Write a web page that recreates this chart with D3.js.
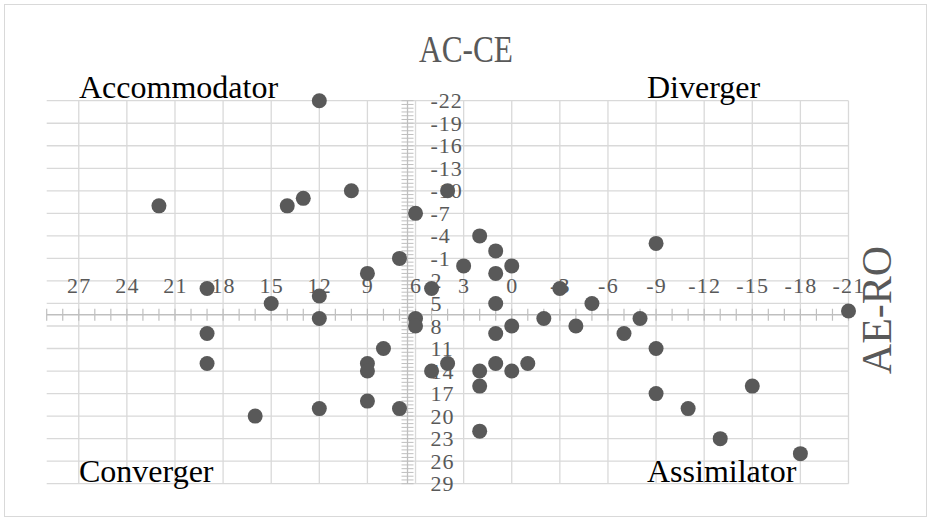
<!DOCTYPE html>
<html>
<head>
<meta charset="utf-8">
<script src="https://cdn.jsdelivr.net/npm/d3@7"></script>
<style>
  html, body { margin: 0; padding: 0; background: #fff; }
  svg text { font-family: "Liberation Serif", "Times New Roman", serif; }
</style>
</head>
<body>
<svg id="chart" width="931" height="520"></svg>
<script>
// ---- data ----
const chartTitle = "AC-CE";
const axisTitle = "AE-RO";
const quadrantLabels = ["Accommodator", "Diverger", "Converger", "Assimilator"];
const xTicks = [27, 24, 21, 18, 15, 12, 9, 6, 3, 0, -3, -6, -9, -12, -15, -18, -21];
const yTicks = [-22, -19, -16, -13, -10, -7, -4, -1, 2, 5, 8, 11, 14, 17, 20, 23, 26, 29];
const xValues = [12, 22, 14, 13, 10, 6, 4, 2, 1, 7, 3, 0, 1, -9, 5, -3, 1, -5, -21, 6, 6, -2, -8, -4, 0, 1, -7, -9, 4, 5, 2, 1, 0, -1, 19, 15, 12, 12, 9, 19, 19, 8, 9, 9, 9, 12, 16, 7, 2, 2, -9, -11, -15, -13, -18];
const yValues = [-22, -8, -8, -9, -10, -7, -10, -4, -2, -1, 0, 0, 1, -3, 3, 3, 5, 5, 6, 7, 8, 7, 7, 8, 8, 9, 9, 11, 13, 14, 14, 13, 14, 13, 3, 5, 4, 7, 1, 9, 13, 11, 13, 14, 18, 19, 20, 19, 16, 22, 17, 19, 16, 23, 25];
const xDomain = [29, -21];
const yDomain = [-22, 29];
const axisCross = 6.5;

// ---- drawing ----
const svg = d3.select("#chart");
const gridColor = "#d9d9d9";
const axisColor = "#bfbfbf";
const textGrey = "#595959";

svg.append("rect")
  .attr("x", 4.5).attr("y", 4.5).attr("width", 922).attr("height", 512)
  .attr("fill", "#fff").attr("stroke", "#d9d9d9").attr("stroke-width", 1);

const x = d3.scaleLinear().domain(xDomain).range([46.7, 848.5]);
const y = d3.scaleLinear().domain(yDomain).range([100.7, 483.7]);

// gridlines
const grid = svg.append("g");
grid.selectAll("line.h").data(yTicks).join("line")
  .attr("x1", x(xDomain[0])).attr("x2", x(xDomain[1]))
  .attr("y1", d => y(d)).attr("y2", d => y(d))
  .attr("stroke", gridColor).attr("stroke-width", 1.3);
grid.selectAll("line.v").data(xTicks).join("line")
  .attr("x1", d => x(d)).attr("x2", d => x(d))
  .attr("y1", y(yDomain[0])).attr("y2", y(yDomain[1]))
  .attr("stroke", gridColor).attr("stroke-width", 1.3);

// horizontal axis (crosses at axisCross)
const ay = y(axisCross);
const ax = x(axisCross);
const xMinor = d3.range(-21, 30, 1);
const hAxis = svg.append("g");
hAxis.append("line").attr("x1", x(xDomain[0])).attr("x2", x(xDomain[1]))
  .attr("y1", ay).attr("y2", ay).attr("stroke", axisColor).attr("stroke-width", 1.3);
hAxis.selectAll("line.t").data(xMinor).join("line")
  .attr("x1", d => x(d)).attr("x2", d => x(d))
  .attr("y1", ay - 6).attr("y2", ay + 6)
  .attr("stroke", axisColor).attr("stroke-width", 1.2);

// vertical axis
const yMinor = d3.range(-22, 29.01, 0.5);
const vAxis = svg.append("g");
vAxis.selectAll("line.t").data(yMinor).join("line")
  .attr("x1", ax - 6).attr("x2", ax + 6)
  .attr("y1", d => y(d)).attr("y2", d => y(d))
  .attr("stroke", axisColor).attr("stroke-width", 1);
vAxis.append("line").attr("x1", ax).attr("x2", ax)
  .attr("y1", y(yDomain[0])).attr("y2", y(yDomain[1]))
  .attr("stroke", axisColor).attr("stroke-width", 1.3);

// tick labels via d3 axes (plain hyphen-minus as in the reference)
const fmt = d => String(d);
const xAxisG = svg.append("g").attr("transform", `translate(0,${ay})`)
  .call(d3.axisTop(x).tickValues(xTicks).tickSize(0).tickPadding(22).tickFormat(fmt));
xAxisG.select(".domain").remove();
xAxisG.selectAll("text").attr("fill", textGrey).style("font-size", "22px")
  .style("font-family", "'Liberation Serif', serif").style("letter-spacing", "1.2px");

const yAxisG = svg.append("g").attr("transform", `translate(${ax},0)`)
  .call(d3.axisRight(y).tickValues(yTicks).tickSize(0).tickPadding(23).tickFormat(fmt));
yAxisG.select(".domain").remove();
yAxisG.selectAll("text").attr("fill", textGrey).style("font-size", "22px")
  .style("font-family", "'Liberation Serif', serif").style("letter-spacing", "1px");

// points
const pts = xValues.map((v, i) => ({ x: v, y: yValues[i] }));
svg.append("g").selectAll("circle").data(pts).join("circle")
  .attr("cx", d => x(d.x)).attr("cy", d => y(d.y)).attr("r", 7.5)
  .attr("fill", "#595959");

// titles
svg.append("text").attr("x", 466).attr("y", 62).attr("text-anchor", "middle")
  .attr("fill", textGrey).style("font-size", "38px")
  .attr("textLength", 94).attr("lengthAdjust", "spacingAndGlyphs").text(chartTitle);
svg.append("text").attr("transform", "translate(891,310) rotate(-90)")
  .attr("text-anchor", "middle").attr("fill", textGrey).style("font-size", "42px").text(axisTitle);

// quadrant labels
const qPos = [[79, 98, "start"], [647, 98, "start"], [79, 482, "start"], [647, 482, "start"]];
svg.append("g").selectAll("text").data(quadrantLabels).join("text")
  .attr("x", (d, i) => qPos[i][0]).attr("y", (d, i) => qPos[i][1])
  .attr("text-anchor", (d, i) => qPos[i][2])
  .attr("fill", "#000").style("font-size", "32px").text(d => d);
</script>
</body>
</html>
